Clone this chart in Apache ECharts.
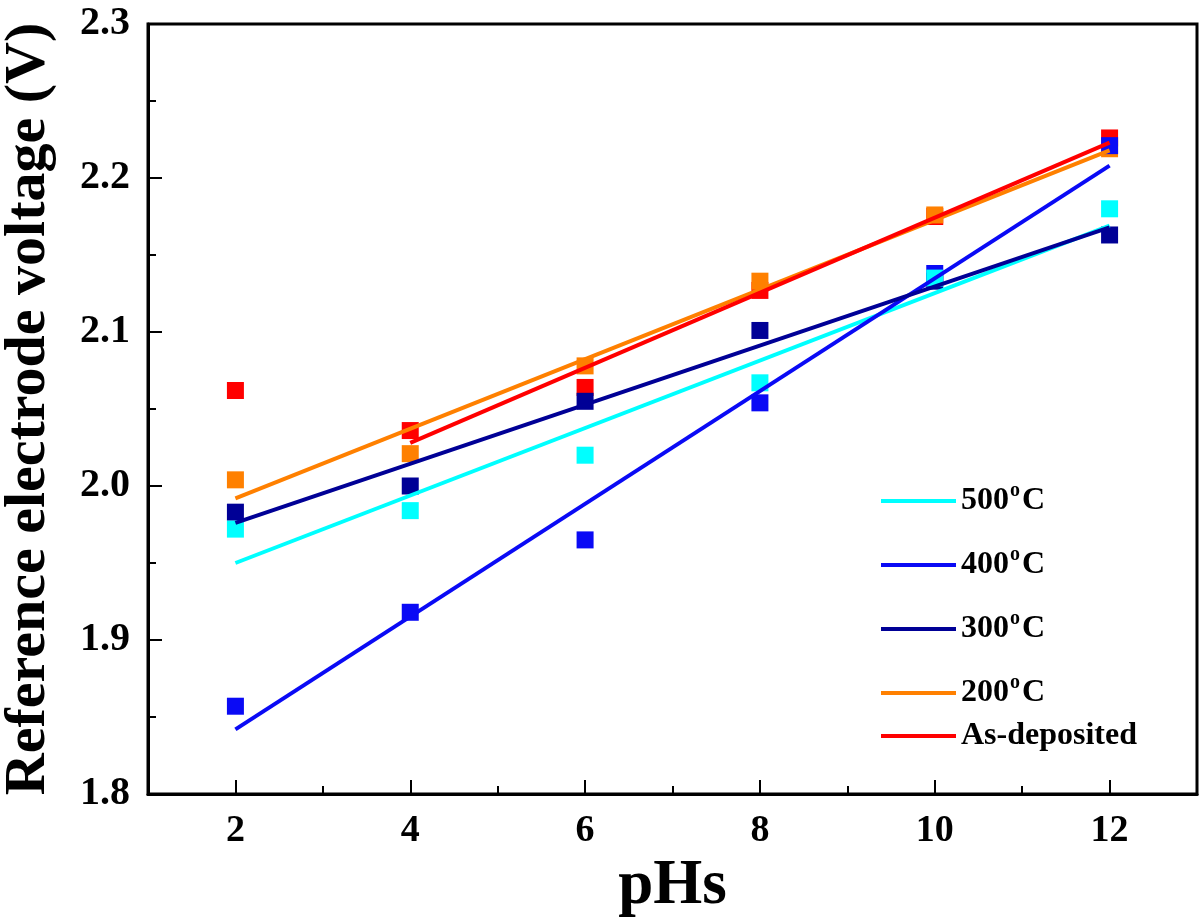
<!DOCTYPE html>
<html>
<head>
<meta charset="utf-8">
<script src="https://cdn.jsdelivr.net/npm/echarts@6/dist/echarts.min.js"></script>
<style>html,body{margin:0;padding:0;background:#fff}#c{width:1200px;height:924px}</style>
</head>
<body>
<div id="c"></div>
<script>
// ---- data ----
const pH = [2, 4, 6, 8, 10, 12];
const seriesNames = ['500', '400', '300', '200', 'As-deposited'];
const v500 = [1.972, 1.984, 2.020, 2.067, 2.135, 2.180];
const v400 = [1.857, 1.918, 1.965, 2.054, 2.138, 2.221];
const v300 = [1.983, 2.000, 2.055, 2.101, 2.133, 2.163];
const v200 = [2.004, 2.021, 2.078, 2.133, 2.176, 2.219];
const vAsDep = [2.062, 2.036, 2.064, 2.127, 2.175, 2.226];
// fitted lines, endpoints: [pH, V]
const fit500 = [[2, 1.950], [12, 2.169]];
const fit400 = [[2, 1.842], [12, 2.208]];
const fit300 = [[2, 1.976], [12, 2.168]];
const fit200 = [[2, 1.992], [12, 2.218]];
const fitAsDep = [[4, 2.028], [12, 2.223]];
const xMajor = [2, 4, 6, 8, 10, 12];
const xMinor = [3, 5, 7, 9, 11];

const colors = {
  '500': '#00FFFF', '400': '#0A0AF5', '300': '#000096', '200': '#FF8000', 'As-deposited': '#FF0000'
};
const FONT = '"Liberation Serif","Times New Roman",serif';

function pts(vals) { return pH.map((x, i) => [x, vals[i]]); }

const scatterDefs = [
  ['As-deposited', vAsDep], ['200', v200], ['300', v300], ['400', v400], ['500', v500]
];
const lineDefs = [
  ['500', fit500], ['400', fit400], ['300', fit300], ['200', fit200], ['As-deposited', fitAsDep]
];

const series = [];
scatterDefs.forEach(([n, vals]) => {
  series.push({
    name: n + '_pts', type: 'scatter', data: pts(vals), symbol: 'rect', symbolSize: 17,
    itemStyle: { color: colors[n], opacity: 1 }, z: 2, silent: true
  });
});
lineDefs.forEach(([n, d]) => {
  series.push({
    name: n, type: 'line', data: d, showSymbol: false, symbol: 'none',
    lineStyle: { color: colors[n], width: 4 }, itemStyle: { color: colors[n] }, z: 3, silent: true
  });
});

function fmtLegend(name) {
  if (name === 'As-deposited') return name;
  return name + '{sup|o}C';
}
const legendText = {
  color: '#000', fontFamily: FONT, fontWeight: 'bold', fontSize: 32, lineHeight: 40,
  rich: { sup: { fontFamily: FONT, fontWeight: 'bold', fontSize: 20, verticalAlign: 'top', lineHeight: 40, padding: [0, 2, 16, 1], color: '#000' } }
};

const chart = echarts.init(document.getElementById('c'), null, { renderer: 'canvas' });
chart.setOption({
  backgroundColor: '#fff',
  animation: false,
  grid: { left: 148, right: 3, top: 24, bottom: 130, show: true, borderColor: '#000', borderWidth: 3,
          containLabel: false, outerBoundsMode: 'none' },
  legend: [
    {
      data: ['500', '400', '300', '200'], orient: 'vertical', left: 876, top: 476,
      icon: 'rect', itemWidth: 75, itemHeight: 4, itemGap: 24, formatter: fmtLegend,
      textStyle: legendText, selectedMode: false
    },
    {
      data: ['As-deposited'], orient: 'vertical', left: 876, top: 711,
      icon: 'rect', itemWidth: 75, itemHeight: 4, formatter: fmtLegend,
      textStyle: legendText, selectedMode: false
    }
  ],
  xAxis: [
    {
      type: 'value', min: 1, max: 13, interval: 1,
      name: 'pHs', nameLocation: 'middle', nameGap: 44,
      nameTextStyle: { fontFamily: FONT, fontWeight: 'bold', fontSize: 63, color: '#000' },
      axisLine: { show: true, lineStyle: { color: '#000', width: 3 } },
      axisTick: { show: true, inside: true, length: 14, lineStyle: { color: '#000', width: 2 }, customValues: xMajor },
      axisLabel: { show: true, margin: 18, customValues: xMajor, fontFamily: FONT, fontWeight: 'bold', fontSize: 38, color: '#000' },
      splitLine: { show: false }
    },
    {
      type: 'value', min: 1, max: 13, interval: 1, position: 'bottom',
      axisLine: { show: false },
      axisTick: { show: true, inside: true, length: 8, lineStyle: { color: '#000', width: 2 }, customValues: xMinor },
      axisLabel: { show: false },
      splitLine: { show: false }
    }
  ],
  yAxis: {
    type: 'value', min: 1.8, max: 2.3, interval: 0.1,
    name: 'Reference electrode voltage (V)', nameLocation: 'middle', nameGap: 90,
    nameTextStyle: { fontFamily: FONT, fontWeight: 'bold', fontSize: 58, color: '#000' },
    axisLine: { show: true, lineStyle: { color: '#000', width: 3 } },
    axisTick: { show: true, inside: true, length: 14, lineStyle: { color: '#000', width: 2 } },
    minorTick: { show: true, splitNumber: 2, length: 8, lineStyle: { color: '#000', width: 2 } },
    axisLabel: { margin: 18, fontFamily: FONT, fontWeight: 'bold', fontSize: 40, color: '#000', formatter: v => v.toFixed(1) },
    splitLine: { show: false }
  },
  series: series
});
</script>
</body>
</html>
